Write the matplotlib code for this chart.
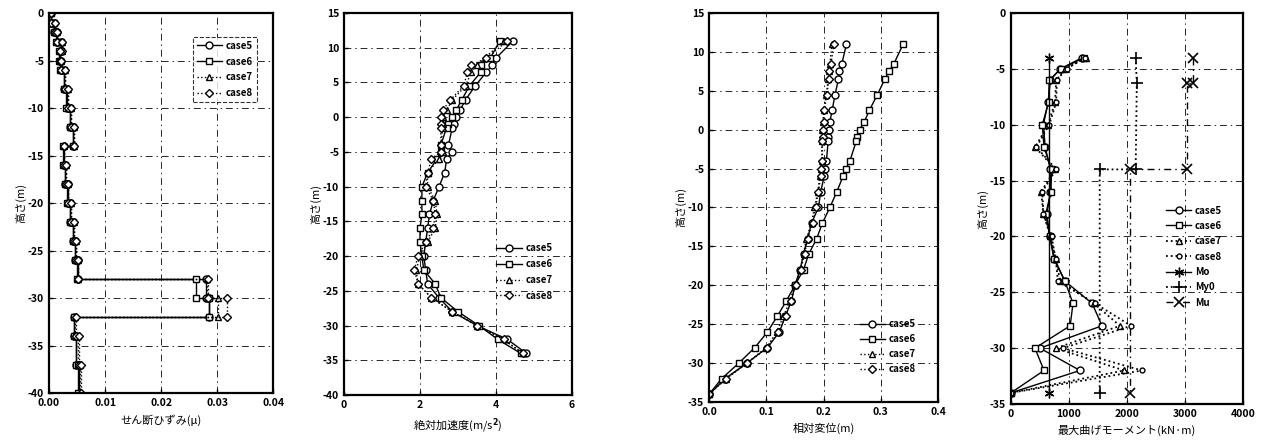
import numpy as np
import matplotlib
matplotlib.use("Agg")
import matplotlib.pyplot as plt
from matplotlib.ticker import FormatStrFormatter

plt.rcParams['font.family'] = ['Noto Sans CJK JP', 'DejaVu Sans']
plt.rcParams['font.size'] = 7.5
plt.rcParams['font.weight'] = 'bold'
plt.rcParams['axes.unicode_minus'] = False

# ---- panel 1 : shear strain, layered (step) profile ----
layer_bounds = [0, -1, -2, -3, -4, -5, -6, -8, -10, -12, -14, -16, -18, -20, -22,
                -24, -26, -28, -30, -32, -34, -37, -40]
strain_case5 = [0.0004, 0.0009, 0.0014, 0.0022, 0.0019, 0.0021, 0.0027, 0.0032, 0.0038,
                0.0043, 0.0026, 0.0029, 0.0033, 0.0038, 0.0043, 0.0047, 0.0051,
                0.0280, 0.0285, 0.0045, 0.0049, 0.0053]
strain_case6 = [0.0003, 0.0008, 0.0013, 0.0021, 0.0018, 0.0020, 0.0026, 0.0031, 0.0037,
                0.0042, 0.0025, 0.0028, 0.0032, 0.0037, 0.0042, 0.0046, 0.0050,
                0.0263, 0.0285, 0.0044, 0.0048, 0.0052]
strain_case7 = [0.0004, 0.0009, 0.0015, 0.0023, 0.0020, 0.0022, 0.0028, 0.0033, 0.0039,
                0.0044, 0.0027, 0.0030, 0.0034, 0.0039, 0.0044, 0.0048, 0.0052,
                0.0282, 0.0302, 0.0047, 0.0052, 0.0056]
strain_case8 = [0.0004, 0.0010, 0.0015, 0.0023, 0.0020, 0.0022, 0.0028, 0.0033, 0.0039,
                0.0044, 0.0027, 0.0030, 0.0034, 0.0039, 0.0044, 0.0048, 0.0052,
                0.0284, 0.0317, 0.0048, 0.0053, 0.0057]

# ---- panel 2 / 3 : acceleration and displacement ----
depth23 = [11, 8.5, 7.5, 6.5, 4.5, 2.5, 1, 0, -1, -1.5, -4, -5, -6, -8, -10, -12, -14,
           -16, -18, -20, -22, -24, -26, -28, -30, -32, -34]
acc_case5 = [4.45, 4.0, 3.9, 3.75, 3.45, 3.2, 3.05, 2.95, 2.9, 2.85, 2.75, 2.85, 2.7, 2.65,
             2.5, 2.35, 2.25, 2.2, 2.15, 2.1, 2.15, 2.2, 2.5, 2.85, 3.5, 4.3, 4.8]
acc_case6 = [4.1, 3.85, 3.6, 3.6, 3.3, 3.1, 2.95, 2.85, 2.75, 2.7, 2.55, 2.55, 2.45, 2.2,
             2.05, 2.05, 2.05, 2.0, 2.0, 2.05, 2.1, 2.4, 2.55, 3.0, 3.55, 4.05, 4.65]
acc_case7 = [4.2, 3.7, 3.5, 3.35, 3.2, 2.85, 2.7, 2.6, 2.6, 2.6, 2.55, 2.6, 2.5, 2.2, 2.2,
             2.4, 2.45, 2.4, 2.2, 2.0, 1.9, 1.95, 2.3, 2.85, 3.5, 4.2, 4.7]
acc_case8 = [4.3, 3.75, 3.35, 3.25, 3.15, 2.8, 2.6, 2.55, 2.55, 2.55, 2.55, 2.55, 2.3, 2.2,
             2.15, 2.35, 2.4, 2.35, 2.15, 1.95, 1.85, 1.95, 2.3, 2.85, 3.5, 4.2, 4.7]

disp_case5 = [0.240, 0.232, 0.227, 0.226, 0.220, 0.215, 0.211, 0.210, 0.208, 0.208, 0.205,
              0.203, 0.201, 0.195, 0.191, 0.179, 0.172, 0.165, 0.159, 0.150, 0.144, 0.133,
              0.123, 0.102, 0.066, 0.028, 0.0]
disp_case6 = [0.339, 0.323, 0.314, 0.307, 0.294, 0.280, 0.271, 0.263, 0.258, 0.257, 0.246,
              0.239, 0.234, 0.223, 0.211, 0.198, 0.188, 0.174, 0.165, 0.150, 0.135, 0.119,
              0.102, 0.080, 0.052, 0.022, 0.0]
disp_case7 = [0.215, 0.211, 0.209, 0.208, 0.205, 0.200, 0.199, 0.198, 0.197, 0.197, 0.197,
              0.195, 0.193, 0.190, 0.184, 0.179, 0.170, 0.165, 0.159, 0.150, 0.141, 0.130,
              0.118, 0.100, 0.066, 0.030, 0.0]
disp_case8 = [0.218, 0.213, 0.210, 0.209, 0.206, 0.201, 0.200, 0.199, 0.199, 0.198, 0.198,
              0.196, 0.195, 0.191, 0.186, 0.181, 0.172, 0.167, 0.160, 0.151, 0.143, 0.134,
              0.121, 0.102, 0.067, 0.030, 0.0]

# ---- panel 4 : max bending moment ----
depth4 = [-4, -5, -6, -8, -10, -12, -14, -16, -18, -20, -22, -24, -26, -28, -30, -32, -34]
mom_case5 = [1230, 850, 680, 640, 560, 590, 680, 680, 620, 670, 740, 930, 1400, 1570, 500, 1190, 0]
mom_case6 = [1260, 860, 660, 650, 540, 570, 700, 690, 600, 670, 750, 930, 1070, 1020, 414, 570, 0]
mom_case7 = [1290, 940, 780, 760, 640, 420, 760, 520, 560, 680, 770, 850, 1430, 1880, 776, 1950, 0]
mom_case8 = [1270, 960, 790, 780, 660, 440, 780, 540, 560, 700, 770, 810, 1450, 2070, 900, 2260, 0]
mo_depth = [-4, -34]
mo_val = [660, 660]
my0_depth = [-4, -6.3, -14, -14, -34]
my0_val = [2150, 2170, 2150, 1530, 1530]
mu_depth = [-4, -6.3, -6.3, -14, -14, -34]
mu_val = [3130, 3130, 3030, 3030, 2060, 2060]

cases = ['case5', 'case6', 'case7', 'case8']
styles = [dict(ls='-', marker='o', ms=5), dict(ls='-', marker='s', ms=5),
          dict(ls=':', marker='^', ms=4.5), dict(ls=':', marker='D', ms=4)]
grid_ls = (0, (7, 4, 1.5, 4))


def frame(ax):
    for s in ax.spines.values():
        s.set_linewidth(1.6)
    ax.tick_params(direction='in', length=3, width=1, labelsize=7.5)
    ax.grid(True, color='0.15', lw=0.7, ls=grid_ls)


def step_xy(bounds, vals):
    b = np.asarray(bounds, dtype=float)
    v = np.asarray(vals, dtype=float)
    return np.repeat(v, 2), np.column_stack([b[:-1], b[1:]]).ravel()


fig = plt.figure(figsize=(12.61, 4.47), dpi=100)

# panel 1
ax1 = fig.add_axes([0.0389, 0.1208, 0.1776, 0.8501])
for name, vals, st in zip(cases, [strain_case5, strain_case6, strain_case7, strain_case8], styles):
    xs, ys = step_xy(layer_bounds, vals)
    ax1.plot(xs, ys, color='k', lw=1.0, mfc='white', mec='k', mew=1.0, label=name, **st)
ax1.set_xlim(0, 0.04)
ax1.set_ylim(-40, 0)
ax1.set_xticks([0, 0.01, 0.02, 0.03, 0.04])
ax1.xaxis.set_major_formatter(FormatStrFormatter('%.2f'))
ax1.set_yticks(np.arange(-40, 1, 5))
frame(ax1)
ax1.set_xlabel('せん断ひずみ(μ)', fontsize=8, labelpad=5)
ax1.set_ylabel('高さ(m)', fontsize=8, labelpad=1)
lg = ax1.legend(loc='upper left', bbox_to_anchor=(0.62, 0.95), fontsize=7, frameon=True,
                fancybox=False, edgecolor='k', handlelength=2.6, labelspacing=0.6,
                borderpad=0.4, handletextpad=0.4)
lg.get_frame().set_linestyle('--')
lg.get_frame().set_linewidth(0.8)

# panel 2
ax2 = fig.add_axes([0.2728, 0.1163, 0.1808, 0.8546])
for name, vals, st in zip(cases, [acc_case5, acc_case6, acc_case7, acc_case8], styles):
    ax2.plot(vals, depth23, color='k', lw=1.0, mfc='white', mec='k', mew=1.0, label=name, **st)
ax2.set_xlim(0, 6)
ax2.set_ylim(-40, 15)
ax2.set_xticks([0, 2, 4, 6])
ax2.set_yticks(np.arange(-40, 16, 5))
frame(ax2)
ax2.set_xlabel('絶対加速度(m/s$^2$)', fontsize=8, labelpad=5)
ax2.set_ylabel('高さ(m)', fontsize=8, labelpad=1)
ax2.legend(loc='upper left', bbox_to_anchor=(0.63, 0.42), fontsize=7, frameon=False,
           handlelength=2.6, labelspacing=0.6, handletextpad=0.4)

# panel 3
ax3 = fig.add_axes([0.5623, 0.1007, 0.1816, 0.8702])
for name, vals, st in zip(cases, [disp_case5, disp_case6, disp_case7, disp_case8], styles):
    ax3.plot(vals, depth23, color='k', lw=1.0, mfc='white', mec='k', mew=1.0, label=name, **st)
ax3.set_xlim(0, 0.4)
ax3.set_ylim(-35, 15)
ax3.set_xticks([0, 0.1, 0.2, 0.3, 0.4])
ax3.xaxis.set_major_formatter(FormatStrFormatter('%.1f'))
ax3.set_yticks(np.arange(-35, 16, 5))
frame(ax3)
ax3.set_xlabel('相対変位(m)', fontsize=8, labelpad=4)
ax3.set_ylabel('高さ(m)', fontsize=8, labelpad=1)
ax3.legend(loc='upper left', bbox_to_anchor=(0.62, 0.235), fontsize=7, frameon=False,
           handlelength=2.6, labelspacing=0.5, handletextpad=0.4)

# panel 4
ax4 = fig.add_axes([0.8017, 0.0962, 0.184, 0.8747])
styles4 = [dict(ls='-', marker='o', ms=5), dict(ls='-', marker='s', ms=5),
           dict(ls=':', marker='^', ms=4.5), dict(ls=':', marker='o', ms=3.5)]
for name, vals, st in zip(cases, [mom_case5, mom_case6, mom_case7, mom_case8], styles4):
    lw = 1.0 if st['ls'] == '-' else 1.3
    ax4.plot(vals, depth4, color='k', lw=lw, mfc='white', mec='k', mew=1.0, label=name, **st)
ax4.plot(mo_val, mo_depth, color='k', lw=1.0, ls='-', marker=(6, 2, 0), ms=7, mew=1.0, label='Mo')
ax4.plot(my0_val, my0_depth, color='k', lw=1.3, ls=':', marker='+', ms=8, mew=1.2, label='My0')
ax4.plot(mu_val, mu_depth, color='k', lw=1.0, ls=(0, (5, 3, 1, 3)), marker='x', ms=7, mew=1.2, label='Mu')
ax4.set_xlim(0, 4000)
ax4.set_ylim(-35, 0)
ax4.set_xticks([0, 1000, 2000, 3000, 4000])
ax4.set_yticks(np.arange(-35, 1, 5))
frame(ax4)
ax4.set_xlabel('最大曲げモーメント(kN·m)', fontsize=8, labelpad=4)
ax4.set_ylabel('高さ(m)', fontsize=8, labelpad=1)
ax4.legend(loc='upper left', bbox_to_anchor=(0.63, 0.53), fontsize=7, frameon=False,
           handlelength=2.6, labelspacing=0.55, handletextpad=0.4)

fig.savefig('out.png', dpi=100)
